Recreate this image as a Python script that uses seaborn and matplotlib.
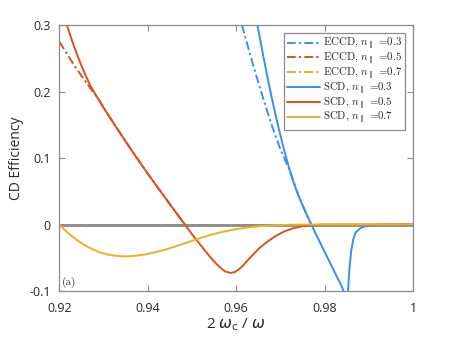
import pandas as pd
import seaborn as sns
import matplotlib.pyplot as plt

# ---- data ----
# SCD, n_par = 0.3
x_scd_03 = [0.9640, 0.9648, 0.9660, 0.9670, 0.9680, 0.9690, 0.9700, 0.9710, 0.9720,
            0.9730, 0.9740, 0.9750, 0.9760, 0.9770, 0.9780, 0.9800, 0.9820, 0.9840,
            0.9846, 0.9850, 0.9853, 0.9856, 0.9860, 0.9865, 0.9870, 0.9880, 0.9890,
            0.9900, 0.9920, 0.9950, 1.0000]
y_scd_03 = [0.340, 0.300, 0.258, 0.224, 0.192, 0.162, 0.134, 0.108, 0.084,
            0.063, 0.045, 0.029, 0.014, 0.000, -0.014, -0.041, -0.068, -0.095,
            -0.106, -0.115, -0.100, -0.068, -0.040, -0.022, -0.012, -0.006, -0.003,
            -0.0015, -0.0004, 0.0, 0.0]

# ECCD, n_par = 0.3 (only the part above zero shows)
x_eccd_03 = [0.9600, 0.9613, 0.9620, 0.9640, 0.9660, 0.9680, 0.9700, 0.9720,
             0.9740, 0.9760, 0.9770]
y_eccd_03 = [0.325, 0.300, 0.283, 0.236, 0.192, 0.150, 0.113, 0.083,
             0.045, 0.014, 0.000]

# SCD, n_par = 0.5
x_scd_05 = [0.9210, 0.9217, 0.9230, 0.9245, 0.9258, 0.9270, 0.9285, 0.9305, 0.9330,
            0.9360, 0.9390, 0.9420, 0.9450, 0.9480, 0.9500, 0.9520, 0.9540, 0.9555,
            0.9565, 0.9575, 0.9587, 0.9597, 0.9605, 0.9615, 0.9625, 0.9640, 0.9655,
            0.9670, 0.9690, 0.9710, 0.9730, 0.9750, 0.9770, 0.9790, 0.9820, 1.0000]
y_scd_05 = [0.316, 0.300, 0.274, 0.247, 0.2265, 0.209, 0.192, 0.1705, 0.145,
            0.115, 0.086, 0.058, 0.0305, 0.0035, -0.0145, -0.0315, -0.0480, -0.0590,
            -0.0655, -0.0705, -0.0728, -0.0715, -0.0680, -0.0620, -0.0545, -0.0440, -0.0340,
            -0.0260, -0.0170, -0.0100, -0.0055, -0.0025, -0.0010, -0.0002, 0.0, 0.0]

# ECCD, n_par = 0.5 (only the part above zero shows)
x_eccd_05 = [0.9200, 0.9235, 0.9270, 0.9285, 0.9305, 0.9330, 0.9360, 0.9390,
             0.9420, 0.9450, 0.9480, 0.9485]
y_eccd_05 = [0.275, 0.238, 0.205, 0.192, 0.1705, 0.145, 0.115, 0.086,
             0.058, 0.0305, 0.0035, 0.0]

# SCD, n_par = 0.7
x_scd_07 = [0.9200, 0.9210, 0.9220, 0.9235, 0.9250, 0.9265, 0.9280, 0.9295, 0.9310,
            0.9325, 0.9340, 0.9355, 0.9370, 0.9385, 0.9400, 0.9420, 0.9440, 0.9460,
            0.9480, 0.9500, 0.9520, 0.9540, 0.9560, 0.9580, 0.9600, 0.9620, 0.9640,
            0.9660, 0.9690, 0.9720, 0.9760, 0.9800, 1.0000]
y_scd_07 = [0.0, -0.0068, -0.0130, -0.0210, -0.0280, -0.0338, -0.0388, -0.0426, -0.0452,
            -0.0469, -0.0477, -0.0478, -0.0472, -0.0460, -0.0443, -0.0413, -0.0377, -0.0335,
            -0.0290, -0.0245, -0.0200, -0.0160, -0.0125, -0.0095, -0.0070, -0.0050, -0.0034,
            -0.0022, -0.0011, -0.0004, -0.0001, 0.0, 0.0]

# ECCD, n_par = 0.7 (lies on the zero line)
x_eccd_07 = [0.9200, 0.9600, 1.0000]
y_eccd_07 = [0.0, 0.0, 0.0]

xticks = [0.92, 0.94, 0.96, 0.98, 1.0]
xtick_labels = ['0.92', '0.94', '0.96', '0.98', '1']
yticks = [-0.1, 0, 0.1, 0.2, 0.3]
ytick_labels = ['-0.1', '0', '0.1', '0.2', '0.3']

c_blue = '#3b8ef2'
c_red = '#d95319'
c_yel = '#edb120'
dashdot = (0, (4.5, 1.6, 1.2, 1.6))

sns.set_style('ticks')
plt.rcParams['font.family'] = ['Open Sans', 'DejaVu Sans']
plt.rcParams['mathtext.fontset'] = 'cm'
plt.rcParams['axes.unicode_minus'] = False

fig = plt.figure(figsize=(4.57, 3.43), dpi=100)
ax = fig.add_axes([0.1298, 0.1516, 0.774, 0.7755])

# zero line sits over the dash-dot ECCD curves but under the SCD curves
ax.axhline(0, color='#8a8a8a', lw=2.0, zorder=2.05)

series = [
    (x_eccd_03, y_eccd_03, c_blue, dashdot, r'ECCD, $n_\parallel$ =0.3', 2.0),
    (x_eccd_05, y_eccd_05, c_red, dashdot, r'ECCD, $n_\parallel$ =0.5', 2.0),
    (x_eccd_07, y_eccd_07, c_yel, dashdot, r'ECCD, $n_\parallel$ =0.7', 1.5),
    (x_scd_03, y_scd_03, c_blue, '-', r'SCD, $n_\parallel$ =0.3', 2.1),
    (x_scd_05, y_scd_05, c_red, '-', r'SCD, $n_\parallel$ =0.5', 2.1),
    (x_scd_07, y_scd_07, c_yel, '-', r'SCD, $n_\parallel$ =0.7', 2.1),
]
for xs, ys, col, ls, lab, z in series:
    df = pd.DataFrame({'x': xs, 'y': ys})
    sns.lineplot(data=df, x='x', y='y', ax=ax, color=col, linestyle=ls,
                 linewidth=1.4, label=lab, estimator=None, sort=True, zorder=z)

ax.set_xlim(0.92, 1.0)
ax.set_ylim(-0.1, 0.3)
ax.set_xticks(xticks, xtick_labels)
ax.set_yticks(yticks, ytick_labels)
ax.tick_params(direction='in', length=4, width=0.8, top=True, right=True,
               labelsize=9, colors='#8a8a8a', labelcolor='#262626')
ax.tick_params(axis='x', pad=8)
ax.tick_params(axis='y', pad=6)
for s in ax.spines.values():
    s.set_color('#8a8a8a')
    s.set_linewidth(0.9)

ax.set_xlabel(r'2 $\omega_{\mathrm{c}}$ / $\omega$', fontsize=11, color='#262626',
              math_fontfamily='dejavusans', labelpad=1)
ax.set_ylabel('CD Efficiency', fontsize=10, color='#262626', labelpad=4)

ax.text(0.9205, -0.087, '(a)', family='cmr10', fontsize=8,
        color='#262626', va='center')

leg = ax.legend(loc='upper right', prop={'family': 'cmr10', 'size': 7.8},
                frameon=True, fancybox=False, handlelength=3.0, handletextpad=0.3,
                labelspacing=-0.15, borderpad=0.3, borderaxespad=0.7)
leg.get_frame().set_edgecolor('#8a8a8a')
leg.get_frame().set_linewidth(0.9)
leg.get_frame().set_alpha(1)

fig.savefig('out.png', dpi=100)
